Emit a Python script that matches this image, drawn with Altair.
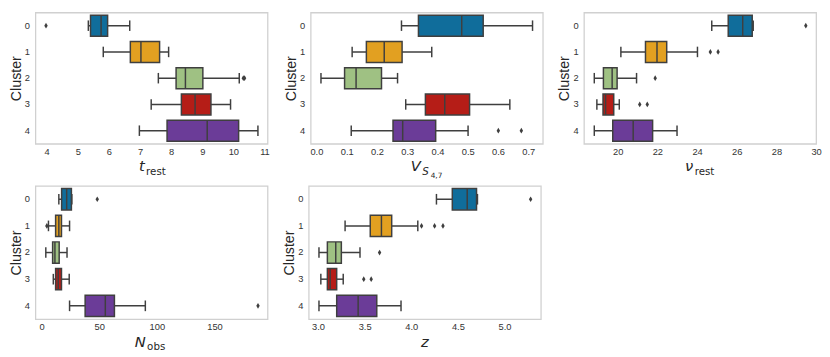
import altair as alt
import pandas as pd

clusters = ["0", "1", "2", "3", "4"]
colors = ["#106d9b", "#e2a021", "#9fc183", "#b51d17", "#6b3c98"]

# t_rest
t_lo = [5.34, 5.82, 7.59, 7.36, 6.98]
t_q1 = [5.41, 6.69, 8.16, 8.33, 7.87]
t_med = [5.75, 7.03, 8.46, 8.77, 9.16]
t_q3 = [5.96, 7.63, 9.02, 9.28, 10.17]
t_hi = [6.67, 7.92, 10.19, 9.91, 10.79]
t_out_c = ["0", "2", "2"]
t_out_v = [3.98, 10.32, 10.36]

# V_S4.7
v_lo = [0.281, 0.118, 0.015, 0.295, 0.115]
v_q1 = [0.337, 0.165, 0.093, 0.360, 0.253]
v_med = [0.480, 0.224, 0.131, 0.424, 0.285]
v_q3 = [0.551, 0.283, 0.215, 0.506, 0.394]
v_hi = [0.714, 0.381, 0.268, 0.639, 0.501]
v_out_c = ["4", "4"]
v_out_v = [0.601, 0.677]

# nu_rest
n_lo = [24.74, 20.16, 18.82, 18.95, 18.82]
n_q1 = [25.57, 21.40, 19.28, 19.26, 19.75]
n_med = [26.30, 21.98, 19.72, 19.39, 20.78]
n_q3 = [26.78, 22.47, 19.97, 19.80, 21.76]
n_hi = [26.83, 24.02, 20.95, 20.08, 22.99]
n_out_c = ["0", "1", "1", "2", "3", "3"]
n_out_v = [29.48, 24.67, 25.06, 21.89, 21.11, 21.49]

# N_obs
o_lo = [15.0, 6.0, 3.7, 10.2, 24.3]
o_q1 = [17.4, 12.2, 9.6, 12.2, 37.8]
o_med = [21.8, 15.0, 11.6, 14.5, 55.3]
o_q3 = [25.9, 17.3, 15.3, 17.3, 63.2]
o_hi = [26.3, 24.3, 22.1, 24.0, 90.0]
o_out_c = ["0", "1", "4"]
o_out_v = [48.3, 4.6, 187.7]

# z
z_lo = [4.27, 3.29, 3.01, 3.03, 3.01]
z_q1 = [4.44, 3.56, 3.10, 3.10, 3.20]
z_med = [4.60, 3.68, 3.19, 3.13, 3.43]
z_q3 = [4.70, 3.79, 3.25, 3.20, 3.63]
z_hi = [4.71, 4.07, 3.45, 3.27, 3.89]
z_out_c = ["0", "1", "1", "1", "2", "3", "3"]
z_out_v = [5.28, 4.11, 4.25, 4.34, 3.66, 3.49, 3.57]

# axis tick labels
t_ticks = [4, 5, 6, 7, 8, 9, 10, 11]
v_ticks = [0.0, 0.1, 0.2, 0.3, 0.4, 0.5, 0.6, 0.7]
n_ticks = [20, 22, 24, 26, 28, 30]
o_ticks = [0, 50, 100, 150]
z_ticks = [3.0, 3.5, 4.0, 4.5, 5.0]

EDGE = "#3f3f3f"
W = 237
THIN_DIAMOND = "M0,-1L0.6,0L0,1L-0.6,0Z"


def panel(lo, q1, med, q3, hi, out_c, out_v, domain, ticks, fmt, H, parts):
    df = pd.DataFrame(dict(cluster=clusters, lo=lo, q1=q1, med=med, q3=q3, hi=hi, color=colors))
    od = pd.DataFrame(dict(cluster=out_c, v=out_v))
    band = H / 5.0
    xs = alt.Scale(domain=domain, nice=False, zero=False)
    ysc = alt.Scale(domain=clusters, paddingInner=0, paddingOuter=0)
    y = alt.Y("cluster:N", scale=ysc, title="Cluster", sort=clusters)
    xaxis = alt.Axis(values=ticks, format=fmt, title=None, labelOverlap=False, labelFlush=False)

    def X(field):
        return alt.X(field, scale=xs, axis=xaxis, title=None)

    base = alt.Chart(df)
    whisk = base.mark_rule(color=EDGE, strokeWidth=1.5).encode(x=X("lo:Q"), x2="hi:Q", y=y)
    box = base.mark_bar(height={"band": 0.8}, stroke=EDGE, strokeWidth=1.5).encode(
        x=X("q1:Q"), x2="q3:Q", y=y, color=alt.Color("color:N", scale=None))
    medl = base.mark_tick(color=EDGE, size=band * 0.8, thickness=1.5, opacity=1).encode(x=X("med:Q"), y=y)
    cap_lo = base.mark_tick(color=EDGE, size=band * 0.4, thickness=1.5, opacity=1).encode(x=X("lo:Q"), y=y)
    cap_hi = base.mark_tick(color=EDGE, size=band * 0.4, thickness=1.5, opacity=1).encode(x=X("hi:Q"), y=y)
    outl = alt.Chart(od).mark_point(shape=THIN_DIAMOND, filled=True, size=34, color=EDGE, opacity=1).encode(
        x=X("v:Q"), y=y)
    layers = [whisk, box, medl, cap_lo, cap_hi, outl]
    # x-axis title: main symbol + subscripts
    x0 = W / 2 + parts["shift"]
    ybase = H + 28
    tdf = pd.DataFrame({"main": [parts["main"]], "sub": [parts.get("sub", "")], "subsub": [parts.get("subsub", "")]})
    tb = alt.Chart(tdf)
    layers.append(tb.mark_text(align="right", baseline="alphabetic", font="DejaVu Sans",
                               fontStyle="italic", fontSize=15, color="#262626").encode(
        x=alt.value(x0), y=alt.value(ybase), text="main:N"))
    if parts.get("sub"):
        layers.append(tb.mark_text(align="left", baseline="alphabetic", font="DejaVu Sans",
                                   fontStyle=parts.get("substyle", "normal"), fontSize=10.5,
                                   color="#262626").encode(
            x=alt.value(x0 + 1.5), y=alt.value(ybase + 3.5), text="sub:N"))
    if parts.get("subsub"):
        layers.append(tb.mark_text(align="left", baseline="alphabetic", font="DejaVu Sans",
                                   fontSize=7.5, color="#262626").encode(
            x=alt.value(x0 + parts["subsub_dx"]), y=alt.value(ybase + 6.5), text="subsub:N"))
    return alt.layer(*layers).properties(width=W, height=H)


p1 = panel(t_lo, t_q1, t_med, t_q3, t_hi, t_out_c, t_out_v, [3.64, 11.1], t_ticks, "d", 134,
           {"main": "t", "sub": "rest", "shift": -7})
p2 = panel(v_lo, v_q1, v_med, v_q3, v_hi, v_out_c, v_out_v, [-0.019, 0.748], v_ticks, ".1f", 134,
           {"main": "V", "sub": "S", "substyle": "italic", "subsub": "4,7", "subsub_dx": 10, "shift": -6})
p3 = panel(n_lo, n_q1, n_med, n_q3, n_hi, n_out_c, n_out_v, [18.3, 30.0], n_ticks, "d", 134,
           {"main": "ν", "sub": "rest", "shift": -7})
p4 = panel(o_lo, o_q1, o_med, o_q3, o_hi, o_out_c, o_out_v, [-5.3, 196.0], o_ticks, "d", 136,
           {"main": "N", "sub": "obs", "shift": -6})
p5 = panel(z_lo, z_q1, z_med, z_q3, z_hi, z_out_c, z_out_v, [2.9, 5.39], z_ticks, ".1f", 136,
           {"main": "z", "shift": 4})

chart = alt.vconcat(
    alt.hconcat(p1, p2, p3, spacing=13),
    alt.hconcat(p4, p5, spacing=13),
    spacing=5,
).properties(
    padding={"left": 0, "top": 0, "right": 0, "bottom": 0}
).configure_view(
    stroke="#d0d0d0", strokeWidth=1.3
).configure_axis(
    grid=False, domain=False, ticks=False, labelOverlap=False,
    labelFont="Liberation Sans", labelFontSize=9.5, labelColor="#333333",
    titleFont="Liberation Sans", titleFontSize=14.5, titleFontWeight="normal", titleColor="#262626",
).configure_axisY(
    labelPadding=6, titlePadding=1
).configure_axisX(
    labelPadding=2.5, labelOverlap=False, labelFlush=False
)

chart.save("out.html", embed_options={"renderer": "svg", "actions": False})
